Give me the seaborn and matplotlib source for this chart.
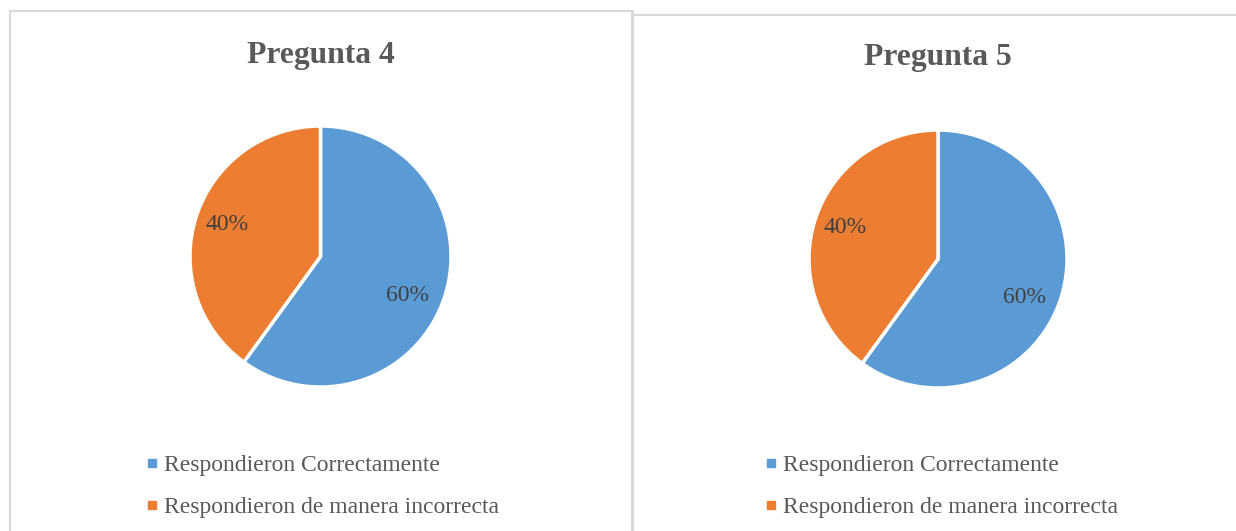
import matplotlib
matplotlib.use("Agg")
import numpy as np
import matplotlib.pyplot as plt
import seaborn as sns
from matplotlib.lines import Line2D

sns.set_theme(style="white")
plt.rcParams['font.family'] = ['Liberation Serif', 'DejaVu Serif']

titles = ["Pregunta 4", "Pregunta 5"]
categories = ["Respondieron Correctamente", "Respondieron de manera incorrecta"]
values_p4 = [60, 40]
values_p5 = [60, 40]
colors = ["#5B9BD5", "#ED7D31"]

W, H = 1236, 531
fig = plt.figure(figsize=(W / 100, H / 100), dpi=100)

def fx(x):
    return x / W

def fy(y):
    return 1 - y / H

# panel borders
border = "#d9d9d9"
fig.add_artist(Line2D([fx(10), fx(10)], [fy(11), fy(531)], color=border, lw=1.5, transform=fig.transFigure))
fig.add_artist(Line2D([fx(10), fx(632)], [fy(11), fy(11)], color=border, lw=1.5, transform=fig.transFigure))
fig.add_artist(Line2D([fx(632), fx(632)], [fy(11), fy(531)], color=border, lw=2.2, transform=fig.transFigure))
fig.add_artist(Line2D([fx(632), fx(1236)], [fy(15), fy(15)], color=border, lw=1.5, transform=fig.transFigure))

panels = [
    dict(title=titles[0], values=values_p4, cx=320.5, cy=256.5, r=130.5, ty=56, lx=146, ly=486.5),
    dict(title=titles[1], values=values_p5, cx=938, cy=259, r=129, ty=58, lx=765, ly=486.5),
]

# label placement (angle offset in degrees, radial distance) per slice
label_adjust = [(-6, 0.73), (-1, 0.76)]

for p in panels:
    r = p["r"]
    ax = fig.add_axes([fx(p["cx"] - r), fy(p["cy"] + r), 2 * r / W, 2 * r / H])
    wedges, texts, autotexts = ax.pie(
        p["values"], colors=colors, startangle=90, counterclock=False,
        autopct=lambda v: f"{v:.0f}%", pctdistance=0.75,
        wedgeprops=dict(edgecolor="white", linewidth=2.5),
        textprops=dict(fontsize=17, color="#404040"),
    )
    for w, t, (da, dist) in zip(wedges, autotexts, label_adjust):
        ang = np.deg2rad((w.theta1 + w.theta2) / 2 + da)
        t.set_position((dist * np.cos(ang), dist * np.sin(ang)))
    ax.set_xlim(-1, 1)
    ax.set_ylim(-1, 1)
    ax.set_aspect("equal")
    ax.axis("off")
    fig.text(fx(p["cx"]), fy(p["ty"]), p["title"], ha="center", va="center",
             fontsize=22.8, fontweight="bold", color="#595959")
    handles = [Line2D([], [], marker="s", linestyle="none", markersize=5.5,
                      markerfacecolor=c, markeredgecolor=c) for c in colors]
    fig.legend(handles, categories, loc="center left",
               bbox_to_anchor=(fx(p["lx"]), fy(p["ly"])),
               frameon=False, fontsize=17, labelcolor="#595959",
               handlelength=0.5, handletextpad=0.25, labelspacing=0.88,
               borderpad=0, borderaxespad=0)

fig.savefig("out.png", dpi=100, facecolor="white")
